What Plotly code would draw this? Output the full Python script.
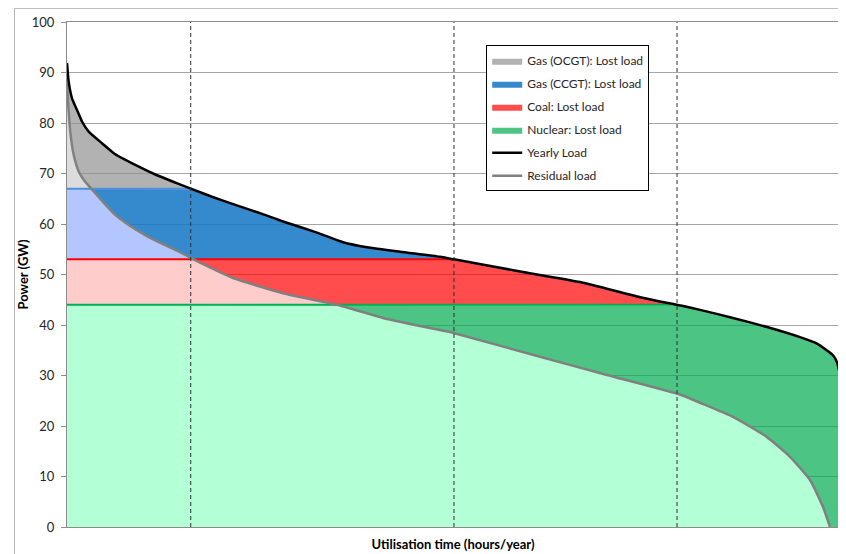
import numpy as np
import plotly.graph_objects as go

# ---------------- data ----------------
load_hours = [0, 19, 57, 113, 170, 246, 397, 548, 775, 1002, 1229, 1404, 1645, 1910,
              2213, 2451, 2837, 3132, 3404, 3779, 4232, 4391, 5174, 5821, 6502, 6978,
              7183, 7557, 7943, 8317, 8500, 8620, 8692, 8740, 8760]
load_gw = [91.9, 88.2, 84.9, 82.6, 80.3, 78.3, 76.0, 73.8, 71.7, 69.8, 68.2, 67.0,
           65.4, 63.8, 62.0, 60.5, 58.3, 56.4, 55.4, 54.5, 53.5, 53.0, 50.5, 48.5,
           45.5, 43.8, 43.0, 41.4, 39.6, 37.6, 36.4, 35.0, 34.0, 32.5, 31.0]

res_hours = [0, 11, 37, 76, 133, 208, 276, 397, 548, 700, 888, 1078, 1267, 1404,
             1645, 1884, 2451, 3064, 3586, 4232, 4346, 5367, 6127, 6978, 7183, 7557,
             7943, 8204, 8431, 8578, 8658]
res_gw = [88.0, 84.5, 78.3, 73.7, 70.4, 68.3, 67.0, 64.6, 61.8, 59.8, 57.8, 56.1,
          54.6, 53.3, 51.2, 49.3, 46.3, 44.0, 41.4, 39.0, 38.6, 33.7, 30.1, 26.1,
          24.6, 21.8, 17.8, 13.9, 9.3, 4.0, 0.0]

# capacity bands (GW): lower, upper
band_names = ["Gas (OCGT): Lost load", "Gas (CCGT): Lost load",
              "Coal: Lost load", "Nuclear: Lost load"]
band_low = [67, 53, 44, 0]
band_high = [100, 67, 53, 44]

y_ticks = [0, 10, 20, 30, 40, 50, 60, 70, 80, 90, 100]

# ---------------- styles ----------------
dark_cols = ["rgba(145,145,145,0.7)", "rgba(16,117,195,0.85)",
             "rgba(255,0,0,0.7)", "rgba(0,171,79,0.7)"]
light_cols = ["#DCDCDC", "#B3C6FF", "#FFCCCC", "#B3FFD6"]
edge_cols = [None, "#4F91DC", "#FF0000", "#00B050"]
FONT = "Lato, 'Open Sans', sans-serif"

fig = go.Figure()

# dense grid for band fills (geometry of the same polylines)
xg = np.union1d(np.linspace(0, 8760, 3001), np.array(load_hours + res_hours, float))
Lg = np.interp(xg, load_hours, load_gw)
Rg = np.interp(xg, res_hours, res_gw, right=0.0)

for i, name in enumerate(band_names):
    a, b = band_low[i], band_high[i]
    uR = np.clip(Rg, a, b)
    uL = np.clip(Lg, a, b)
    fig.add_trace(go.Scatter(x=xg, y=np.full_like(xg, a), mode="lines",
                             line=dict(width=0), showlegend=False, hoverinfo="skip"))
    fig.add_trace(go.Scatter(x=xg, y=uR, mode="lines", line=dict(width=0),
                             fill="tonexty", fillcolor=light_cols[i],
                             showlegend=False, hoverinfo="skip"))
    fig.add_trace(go.Scatter(x=xg, y=uL, mode="lines", line=dict(width=0),
                             fill="tonexty", fillcolor=dark_cols[i],
                             name=name, legendgroup=name, legendrank=i + 1))

# band edge lines (from 0 to where the load curve crosses the band top)
cross_x = []
for i in range(1, 4):
    lvl = band_high[i]
    xc = float(np.interp(lvl, load_gw[::-1], load_hours[::-1]))
    cross_x.append(xc)
    fig.add_trace(go.Scatter(x=[0, xc], y=[lvl, lvl], mode="lines",
                             line=dict(color=edge_cols[i], width=2),
                             showlegend=False, hoverinfo="skip"))

fig.add_trace(go.Scatter(x=res_hours, y=res_gw, mode="lines",
                         line=dict(color="#808080", width=2.5, shape="spline", smoothing=0.5),
                         name="Residual load", legendgroup="res", legendrank=6))
fig.add_trace(go.Scatter(x=load_hours, y=load_gw, mode="lines",
                         line=dict(color="#000000", width=2.5, shape="spline", smoothing=0.5),
                         name="Yearly Load", legendgroup="load", legendrank=5))

for xc in cross_x:
    fig.add_shape(type="line", x0=xc, x1=xc, y0=0, y1=100, xref="x", yref="y",
                  line=dict(color="#303030", width=1, dash="4px,3px"), layer="above")

# outer chart border (top and left visible)
fig.add_shape(type="rect", xref="paper", yref="paper", x0=-0.068, x1=1.2,
              y0=-0.3, y1=1.027, line=dict(color="#B4B4B4", width=1), layer="below")

# page body has an 8px margin: figure sized/offset to land the plot area at
# x 67..839, y 22..527 of the window
fig.update_layout(
    width=838, height=546,
    margin=dict(l=59, r=7, t=14, b=27, autoexpand=False),
    paper_bgcolor="white", plot_bgcolor="white",
    font=dict(family=FONT, size=13, color="#262626"),
    showlegend=True,
    legend=dict(x=0.543, y=0.954, xanchor="left", yanchor="top",
                bgcolor="white", bordercolor="#000000", borderwidth=1,
                font=dict(size=12, family=FONT, color="#262626"),
                traceorder="grouped", tracegroupgap=4),
    xaxis=dict(range=[0, 8760], showticklabels=False, ticks="", showgrid=False,
               zeroline=False, showline=True, linecolor="#8C8C8C", linewidth=1,
               mirror=True, automargin=False,
               title=dict(text="<b>Utilisation time (hours/year)</b>", standoff=12,
                          font=dict(size=13, family=FONT, color="#000000"))),
    yaxis=dict(range=[0, 100], tickvals=y_ticks, ticks="outside", ticklen=5,
               tickcolor="#8C8C8C", showgrid=True, gridcolor="#A6A6A6", gridwidth=1,
               zeroline=False, showline=True, linecolor="#8C8C8C", linewidth=1,
               mirror=True, ticklabelstandoff=4, automargin=False,
               tickfont=dict(size=13, family=FONT, color="#262626"),
               title=dict(text="<b>Power (GW)</b>", standoff=0,
                          font=dict(size=13, family=FONT, color="#000000"))),
)

fig.write_html("out.html")
